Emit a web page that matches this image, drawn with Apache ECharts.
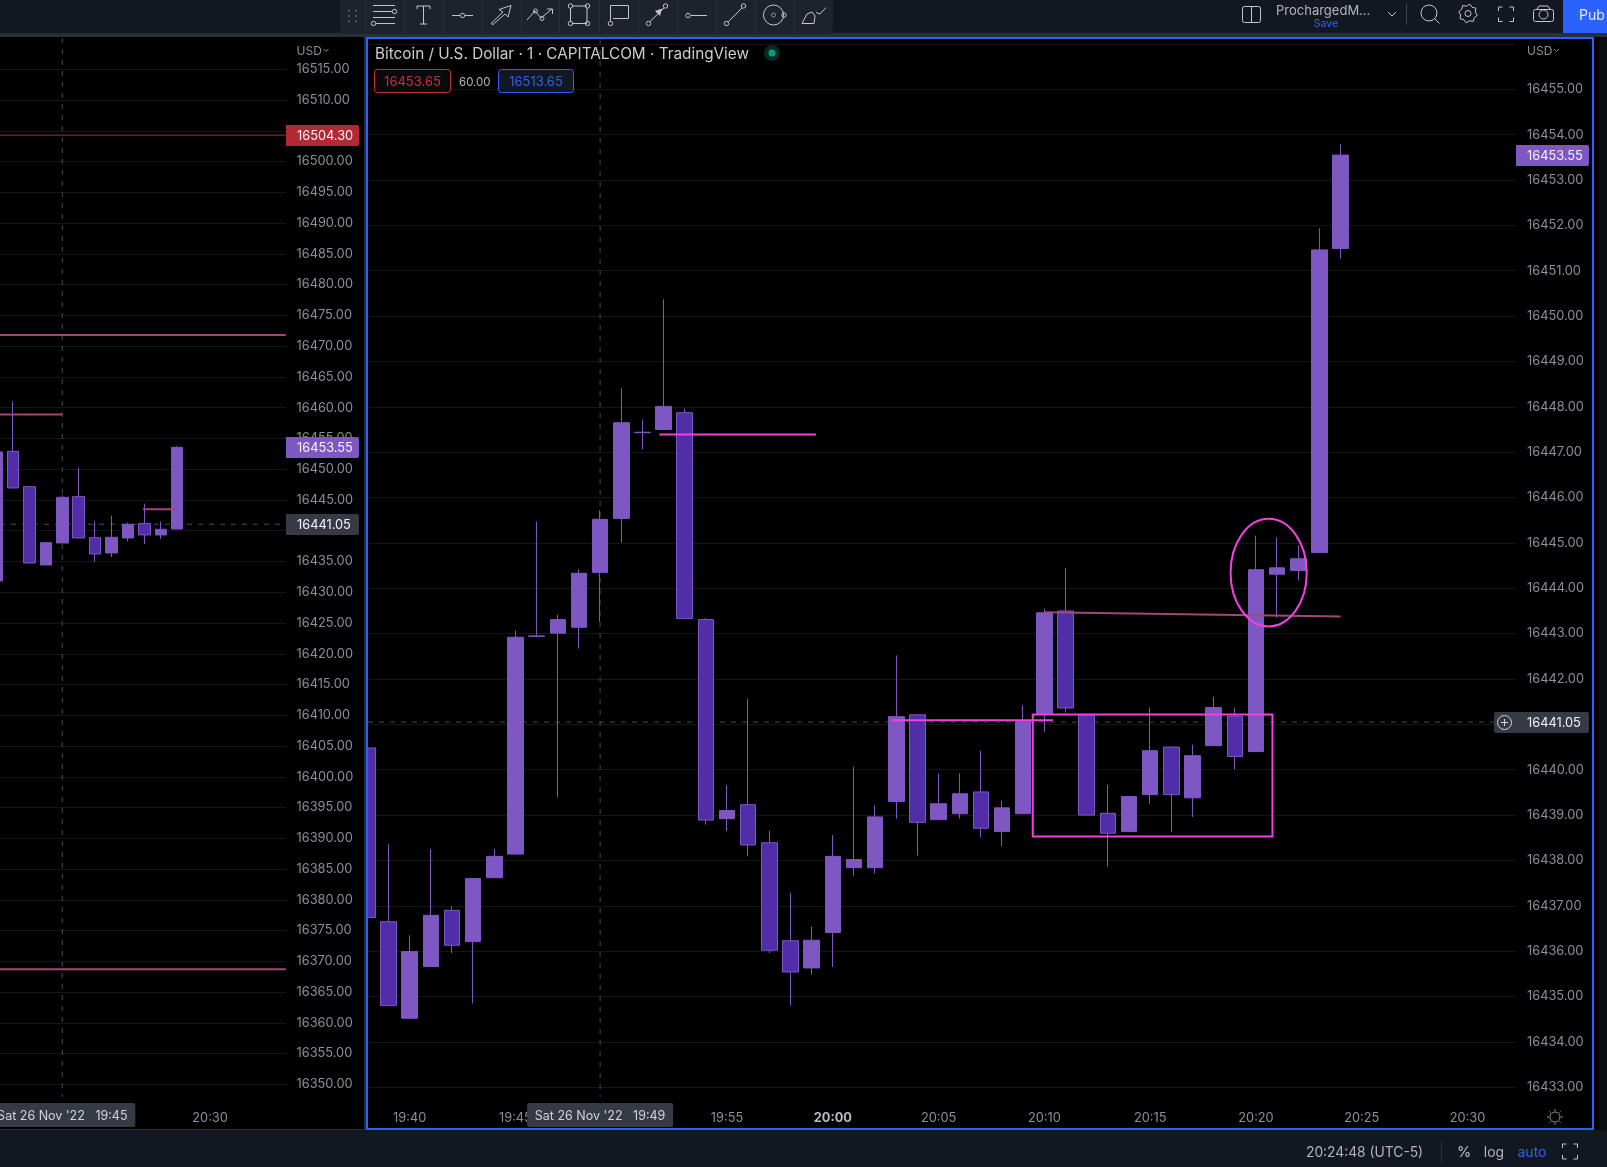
<!DOCTYPE html>
<html>
<head>
<meta charset="utf-8">
<title>BTCUSD split chart</title>
<script src="https://cdn.jsdelivr.net/npm/echarts@6/dist/echarts.min.js"></script>
<style>
  html, body { margin: 0; padding: 0; background: #000; }
  #chart { width: 1607px; height: 1167px; }
</style>
</head>
<body>
<div id="chart"></div>
<script>
// right panel: 1 minute candles
const mainTimes = ['19:38','19:39','19:40','19:41','19:42','19:43','19:44','19:45','19:46','19:47','19:48','19:49','19:50','19:51','19:52','19:53','19:54','19:55','19:56','19:57','19:58','19:59','20:00','20:01','20:02','20:03','20:04','20:05','20:06','20:07','20:08','20:09','20:10','20:11','20:12','20:13','20:14','20:15','20:16','20:17','20:18','20:19','20:20','20:21','20:22','20:23','20:24']
const mainOpen = [16440.48,16436.65,16434.52,16435.66,16436.90,16436.21,16437.62,16438.14,16442.94,16443.01,16443.14,16444.35,16445.54,16447.43,16447.50,16447.87,16443.31,16438.92,16439.23,16438.39,16436.23,16435.63,16436.41,16437.84,16437.84,16439.30,16441.21,16438.90,16439.03,16439.51,16438.64,16439.03,16441.24,16443.50,16441.21,16439.04,16438.64,16439.45,16440.50,16439.38,16440.53,16441.18,16440.40,16444.31,16444.39,16444.79,16451.49]
const mainClose = [16436.74,16434.80,16435.99,16436.79,16436.13,16437.60,16438.09,16442.92,16442.95,16443.31,16444.33,16445.52,16447.65,16447.44,16448.01,16443.33,16438.89,16439.10,16438.34,16436.02,16435.54,16436.24,16438.09,16438.02,16438.96,16441.17,16438.84,16439.25,16439.47,16438.71,16439.16,16441.06,16443.46,16441.36,16439.00,16438.60,16439.41,16440.42,16439.45,16440.31,16441.37,16440.29,16444.41,16444.45,16444.65,16451.46,16453.55]
const mainLow = [16436.74,16434.80,16434.52,16435.66,16435.96,16434.85,16437.62,16438.14,16442.94,16439.39,16442.67,16443.26,16445.01,16447.06,16447.50,16443.33,16438.79,16438.65,16438.09,16435.96,16434.80,16435.49,16435.65,16437.66,16437.71,16438.92,16438.11,16438.90,16438.92,16438.51,16438.31,16439.03,16440.83,16441.26,16439.00,16437.86,16438.64,16439.25,16438.62,16438.96,16440.53,16440.01,16440.40,16443.35,16444.17,16444.79,16451.27]
const mainHigh = [16440.48,16438.36,16436.35,16438.25,16436.99,16437.60,16438.25,16443.07,16445.47,16443.42,16444.42,16445.72,16448.41,16447.72,16450.37,16447.96,16443.35,16439.66,16441.57,16438.65,16437.29,16436.55,16438.56,16440.07,16439.21,16442.52,16441.21,16439.92,16439.92,16440.42,16439.32,16441.42,16443.55,16444.45,16441.21,16439.67,16439.41,16441.37,16440.50,16440.55,16441.61,16441.37,16445.16,16445.12,16444.94,16451.94,16453.79]
const mainPriceLabels = [16433,16434,16435,16436,16437,16438,16439,16440,16441,16442,16443,16444,16445,16446,16447,16448,16449,16450,16451,16452,16453,16454,16455]
const mainGridLevels = [16433,16434,16435,16436,16437,16438,16439,16440,16441,16442,16443,16444,16445,16446,16447,16448,16449,16450,16451,16452,16453,16454,16455,16456]
const mainTimeLabels = ['19:40','19:45','19:50','19:55','20:00','20:05','20:10','20:15','20:20','20:25','20:30']

// left panel: 5 minute candles
const sideTimes = ['19:25','19:30','19:35','19:40','19:45','19:50','19:55','20:00','20:05','20:10','20:15','20:20']
const sideOpen = [16431.83,16452.90,16447.16,16434.43,16438.00,16445.54,16438.87,16436.38,16438.82,16441.15,16439.31,16440.28]
const sideClose = [16452.80,16446.95,16434.76,16438.06,16445.43,16438.82,16436.22,16438.93,16441.04,16439.31,16440.23,16453.55]
const sideLow = [16431.83,16446.95,16434.76,16434.43,16438.00,16438.82,16434.92,16435.73,16438.28,16437.84,16438.66,16440.28]
const sideHigh = [16452.80,16461.03,16447.16,16438.20,16445.75,16450.25,16441.47,16442.45,16441.31,16444.40,16441.47,16453.72]
const sidePriceLabels = [16350,16355,16360,16365,16370,16375,16380,16385,16390,16395,16400,16405,16410,16415,16420,16425,16430,16435,16440,16445,16450,16455,16460,16465,16470,16475,16480,16485,16490,16495,16500,16505,16510,16515]
const sideTimeLabels = ['20:30']

// drawings on the charts, as [time, price, time, price]
const mainBrightLines = [['19:51.8',16447.39,'19:59.2',16447.39],['20:02.8',16441.09,'20:10.4',16441.09]]
const mainMutedLines = [['20:10',16443.47,'20:24',16443.38]]
const mainBoxes = [['20:09.45',16441.22,'20:20.78',16438.53]]
const mainEllipses = [['20:18.8',16445.53,'20:22.4',16443.16]]
const sideRedLines = [['19:06',16504.30,'20:53.1',16504.30]]
const sideMutedLines = [['19:06',16471.8,'20:53.1',16471.8],['19:06',16368.7,'20:53.1',16368.7],['19:06',16458.9,'19:45',16458.9],['20:09.6',16443.5,'20:20',16443.5]]
const lastPrice = 16453.55
const countdownPrice = 16441.05
const sideStopPrice = 16504.30

const FONT = 'Inter, "Noto Sans", sans-serif'
const AXIS_SIZE = 12.8
const UP = '#7e57c2'
const DOWN = '#512da8'
const BLUE = '#2962ff'
const PANEL = '#131722'
const STRIP = '#2a2e39'
const ICON = '#c3c6ce'
const TEXT_DIM = '#8c8f96'
const TAG = '#363a45'
const PINK = '#f53fe4'
const MUTED_PINK = '#a04878'

const toMinute = (t) => {
  const [h, m] = t.split(':')
  return Number(h) * 60 + Number(m)
}
const toClock = (v) => {
  const m = Math.round(v)
  return Math.floor(m / 60) + ':' + String(m % 60).padStart(2, '0')
}

const candleRows = (times, open, close, low, high) =>
  times.map((t, i) => [toMinute(t), open[i], close[i], low[i], high[i]])

const lineRows = (rows) => rows.map((r) => [toMinute(r[0]), r[1], toMinute(r[2]), r[3]])

function candleSeries(index, rows, barWidth) {
  return {
    type: 'candlestick',
    xAxisIndex: index,
    yAxisIndex: index,
    data: rows,
    encode: { x: 0, y: [1, 2, 3, 4] },
    barWidth: barWidth,
    clip: true,
    silent: true,
    itemStyle: {
      color: UP,
      color0: DOWN,
      borderColor: UP,
      borderColor0: UP,
      borderWidth: 1
    }
  }
}

// straight segments, boxes and ellipses given in chart values
function drawingSeries(index, rows, shape, style, z) {
  return {
    type: 'custom',
    xAxisIndex: index,
    yAxisIndex: index,
    data: rows,
    encode: { x: [0, 2], y: [1, 3] },
    silent: true,
    z: z,
    renderItem: (params, api) => {
      const a = api.coord([api.value(0), api.value(1)])
      const b = api.coord([api.value(2), api.value(3)])
      if (shape === 'line') {
        return { type: 'line', shape: { x1: a[0], y1: a[1], x2: b[0], y2: b[1] }, style: style }
      }
      if (shape === 'rect') {
        return { type: 'rect', shape: { x: a[0], y: a[1], width: b[0] - a[0], height: b[1] - a[1] }, style: style }
      }
      return {
        type: 'ellipse',
        shape: { cx: (a[0] + b[0]) / 2, cy: (a[1] + b[1]) / 2, rx: (b[0] - a[0]) / 2, ry: (b[1] - a[1]) / 2 },
        style: style
      }
    }
  }
}

// coloured price label sitting on the price scale
function priceTag(index, price, fill, color) {
  return {
    type: 'custom',
    xAxisIndex: index,
    yAxisIndex: index,
    data: [[price]],
    encode: { y: 0 },
    silent: true,
    z: 6,
    renderItem: (params, api) => {
      const y = api.coord([0, api.value(0)])[1]
      const x = params.coordSys.x + params.coordSys.width
      return {
        type: 'group',
        children: [
          { type: 'rect', shape: { x: x, y: Math.round(y) - 10, width: 73, height: 21, r: [0, 2, 2, 0] }, style: { fill: fill } },
          { type: 'text', style: { x: x + 11, y: Math.round(y) + 1, text: api.value(0).toFixed(2), fill: color, font: AXIS_SIZE + 'px ' + FONT, verticalAlign: 'middle' } }
        ]
      }
    }
  }
}

// date label at the foot of the crosshair
function timeTag(index, minute, text) {
  return {
    type: 'custom',
    xAxisIndex: index,
    yAxisIndex: index,
    data: [[minute]],
    encode: { x: 0 },
    silent: true,
    z: 6,
    renderItem: (params, api) => {
      const x = api.coord([api.value(0), 0])[0]
      const y = params.coordSys.y + params.coordSys.height
      return {
        type: 'group',
        children: [
          { type: 'rect', shape: { x: x - 73, y: y + 6, width: 146, height: 24, r: 2 }, style: { fill: TAG } },
          { type: 'text', style: { x: x, y: y + 19, text: text, fill: '#d1d4dc', font: '12.5px ' + FONT, align: 'center', verticalAlign: 'middle' } }
        ]
      }
    }
  }
}

function priceAxis(index, min, max, labels, levels, margin) {
  return {
    type: 'value',
    gridIndex: index,
    position: 'right',
    min: min,
    max: max,
    scale: true,
    axisLine: { show: false },
    axisTick: { show: false, customValues: levels },
    splitLine: { show: true, lineStyle: { color: '#161616', width: 1 } },
    axisLabel: {
      customValues: labels,
      margin: margin,
      padding: [1, 0, 0, 0],
      color: TEXT_DIM,
      fontFamily: FONT,
      fontSize: AXIS_SIZE,
      formatter: (v) => v.toFixed(2)
    }
  }
}

function timeAxis(index, min, max, labels) {
  return {
    type: 'value',
    gridIndex: index,
    min: min,
    max: max,
    axisLine: { show: false },
    axisTick: { show: false },
    splitLine: { show: false },
    axisLabel: {
      customValues: labels.map(toMinute),
      margin: 15,
      color: TEXT_DIM,
      fontFamily: FONT,
      fontSize: AXIS_SIZE,
      formatter: (v) => (toClock(v) === '20:00' ? '{strong|20:00}' : toClock(v)),
      rich: { strong: { color: '#b8bbc2', fontFamily: FONT, fontSize: AXIS_SIZE, fontWeight: 'bold' } }
    }
  }
}

// ---- window chrome around the charts ----
const chrome = []
const rect = (x, y, w, h, fill, r) => chrome.push({ type: 'rect', z: 20, silent: true, shape: { x: x, y: y, width: w, height: h, r: r || 0 }, style: { fill: fill } })
const line = (x1, y1, x2, y2, color) => chrome.push({ type: 'line', z: 21, silent: true, shape: { x1: x1, y1: y1, x2: x2, y2: y2 }, style: { stroke: color || ICON, lineWidth: 1 } })
const ring = (x, y, r, color) => chrome.push({ type: 'circle', z: 21, silent: true, shape: { cx: x, cy: y, r: r }, style: { fill: 'none', stroke: color || ICON, lineWidth: 1 } })
const poly = (points, color, closed) => chrome.push({ type: closed ? 'polygon' : 'polyline', z: 21, silent: true, shape: { points: points }, style: { fill: 'none', stroke: color || ICON, lineWidth: 1 } })
const label = (x, y, text, color, size, align) => chrome.push({ type: 'text', z: 22, silent: true, style: { x: x, y: y, text: text, fill: color, font: (size || 12) + 'px ' + FONT, align: align || 'left', verticalAlign: 'middle' } })

// bars and panel frame
rect(0, 0, 1607, 33, PANEL)
rect(0, 33, 1607, 4, STRIP)
rect(0, 1130, 1607, 37, PANEL)
rect(355, 735, 9, 250, '#000')
rect(364, 37, 2, 1093, STRIP)
rect(0, 1129, 366, 1, STRIP)
rect(1599, 37, 8, 1093, '#0b0c10')
rect(366, 37, 2, 1093, BLUE)
rect(366, 37, 1228, 2, BLUE)
rect(1592, 37, 2, 1093, BLUE)
rect(366, 1128, 1228, 2, BLUE)

// floating drawing toolbar
rect(340, -6, 493, 40, '#1e222d', 5)
for (const x of [365, 404, 443, 482, 521, 559, 599, 638, 677, 716, 755, 794]) line(x + 0.5, 0, x + 0.5, 33, '#2a2e39')
for (const x of [348, 355]) for (const y of [10, 15, 20]) rect(x, y, 2, 2, '#50535e')
line(373, 5.5, 395, 5.5); line(373, 11.5, 392, 11.5); ring(394.5, 11.5, 2.2)
line(373, 17.5, 395, 17.5); line(376, 23.5, 395, 23.5); ring(373.5, 23.5, 2.2)
poly([[417, 9], [417, 6], [430, 6], [430, 9]]); line(423.5, 6, 423.5, 24); line(420, 24, 427, 24)
line(452, 15.5, 460, 15.5); line(465, 15.5, 473, 15.5); ring(462.5, 15.5, 2.2)
poly([[511, 5.5], [499, 9.5], [503, 12], [491, 23.5], [493, 24.5], [505, 14], [508, 17]], ICON, true)
poly([[527, 20], [535, 11], [541, 18], [552, 9]]); poly([[547, 9], [552.5, 9], [552.5, 14]]); ring(535.5, 11, 2); ring(542, 18.5, 2)
line(572, 6, 587, 6); line(587, 8, 587, 23); line(572, 23.5, 587, 23.5); line(570.5, 8, 570.5, 21.5)
ring(570.5, 6, 2.2); ring(587.5, 6, 2.2); ring(570.5, 23.5, 2.2); ring(587.5, 23.5, 2.2)
poly([[610.5, 21], [610.5, 5.5], [628.5, 5.5], [628.5, 18.5], [613, 18.5]]); ring(610.5, 23.5, 2.2)
line(650, 21.5, 664, 8); ring(648.5, 23.5, 2.2); ring(665.5, 6, 2.2)
chrome.push({ type: 'polygon', z: 21, silent: true, shape: { points: [[662, 8.5], [655, 11], [660, 16]] }, style: { fill: ICON } })
ring(688, 15.5, 2.2); line(691, 15.5, 707, 15.5)
line(728.5, 21.5, 742, 8); ring(726.5, 23.5, 2.2); ring(743.5, 6, 2.2)
ring(773.5, 15, 10); ring(773.5, 15, 2, '#8c8f96'); ring(784, 15, 2.2)
poly([[802, 23.5], [807, 14], [812, 12], [815, 16], [814, 23.5], [802, 23.5]]); poly([[816, 12.5], [820, 14], [826, 7.5]])

// top right controls
chrome.push({ type: 'rect', z: 21, silent: true, shape: { x: 1242.5, y: 6.5, width: 18, height: 16, r: 2 }, style: { fill: 'none', stroke: ICON, lineWidth: 1 } })
line(1251.5, 7, 1251.5, 22)
label(1276, 11, 'ProchargedM...', '#b2b5be', 13)
label(1326, 23.5, 'Save', '#2962ff', 10.5, 'center')
poly([[1388, 12], [1392, 16], [1396, 12]])
line(1406.5, 4, 1406.5, 25, '#434651')
ring(1429, 13, 8); line(1435, 19, 1439.5, 23.5)
const gear = []
for (let i = 0; i < 16; i++) {
  const r = i % 2 === 0 ? 9.5 : 7.5
  const a = (i + 0.5) * Math.PI / 8
  gear.push([1468 + r * Math.cos(a), 13.5 + r * Math.sin(a)])
}
poly(gear, ICON, true); ring(1468, 13.5, 3)
for (const [x, y, dx, dy] of [[1498.5, 7, 1, 1], [1513.5, 7, -1, 1], [1498.5, 21.5, 1, -1], [1513.5, 21.5, -1, -1]]) {
  poly([[x + dx * 4, y], [x, y], [x, y + dy * 4]])
}
chrome.push({ type: 'rect', z: 21, silent: true, shape: { x: 1533.5, y: 9.5, width: 20, height: 12, r: 2 }, style: { fill: 'none', stroke: ICON, lineWidth: 1 } })
poly([[1537, 9], [1539, 6], [1548, 6], [1550, 9]]); ring(1543.5, 14.5, 4.5)
rect(1563, 0, 44, 33, BLUE)
label(1579, 15.5, 'Pub', '#e6e9f5', 14)

// scale headers
label(296.5, 51, 'USD', TEXT_DIM, 12); poly([[323.5, 49], [326, 51.5], [328.5, 49]], TEXT_DIM)
label(1527, 51, 'USD', TEXT_DIM, 12); poly([[1554, 49], [1556.5, 51.5], [1559, 49]], TEXT_DIM)

// legend of the right panel
label(375, 54, 'Bitcoin / U.S. Dollar · 1 · CAPITALCOM · TradingView', '#c9cbd2', 15.3)
chrome.push({ type: 'circle', z: 21, silent: true, shape: { cx: 772, cy: 53, r: 8 }, style: { fill: '#062c24' } })
chrome.push({ type: 'circle', z: 21, silent: true, shape: { cx: 772, cy: 53, r: 3.5 }, style: { fill: '#089981' } })
chrome.push({ type: 'rect', z: 21, silent: true, shape: { x: 374.5, y: 69.5, width: 76, height: 23, r: 3 }, style: { fill: '#0a0a0c', stroke: '#c5303c', lineWidth: 1 } })
label(412.5, 82, '16453.65', '#c5303c', 13, 'center')
label(459, 82.5, '60.00', '#b2b5be', 11.5)
chrome.push({ type: 'rect', z: 21, silent: true, shape: { x: 498.5, y: 69.5, width: 75, height: 23, r: 3 }, style: { fill: PANEL, stroke: BLUE, lineWidth: 1 } })
label(536, 82, '16513.65', '#2d62e0', 13, 'center')

// plus button next to the crosshair price and scale settings
rect(1494, 712, 22, 21, TAG, [2, 0, 0, 2])
ring(1504.5, 722.5, 7, '#d1d4dc'); line(1501, 722.5, 1508, 722.5, '#d1d4dc'); line(1504.5, 719, 1504.5, 726, '#d1d4dc')
ring(1555, 1117, 5, TEXT_DIM)
for (let i = 0; i < 8; i++) {
  const a = i * Math.PI / 4
  line(1555 + 6 * Math.cos(a), 1117 + 6 * Math.sin(a), 1555 + 8 * Math.cos(a), 1117 + 8 * Math.sin(a), TEXT_DIM)
}

// status bar
label(1306, 1153, '20:24:48 (UTC-5)', '#b2b5be', 13.8)
line(1441.5, 1141, 1441.5, 1163, '#2a2e39')
label(1464, 1153, '%', '#c3c6ce', 14.5, 'center')
label(1494, 1153, 'log', '#b2b5be', 14, 'center')
label(1532, 1153, 'auto', '#2962ff', 14, 'center')
for (const [x, y, dx, dy] of [[1562.5, 1144, 1, 1], [1577.5, 1144, -1, 1], [1562.5, 1159, 1, -1], [1577.5, 1159, -1, -1]]) {
  poly([[x + dx * 4, y], [x, y], [x, y + dy * 4]])
}

const crossStyle = { stroke: '#4a4b50', lineWidth: 1, lineDash: [5, 6] }
const mainCross = [
  [toMinute('19:49'), 16456.109, toMinute('19:49'), 16432.785],
  [1178.03, countdownPrice, 1232.29, countdownPrice]
]
const sideCross = [
  [toMinute('19:45'), 16520.09, toMinute('19:45'), 16347.95],
  [1166.02, countdownPrice, 1253.14, countdownPrice]
]

const option = {
  backgroundColor: '#000',
  animation: false,
  textStyle: { fontFamily: FONT },
  grid: [
    { left: 0, top: 38, width: 286, height: 1059, show: false },
    { left: 368, top: 39, width: 1148, height: 1058, show: false }
  ],
  xAxis: [
    timeAxis(0, 1166.02, 1253.14, sideTimeLabels),
    timeAxis(1, 1178.03, 1232.29, mainTimeLabels)
  ],
  yAxis: [
    priceAxis(0, 16347.95, 16520.09, sidePriceLabels, sidePriceLabels, 10.5),
    priceAxis(1, 16432.785, 16456.109, mainPriceLabels, mainGridLevels, 11)
  ],
  series: [
    drawingSeries(0, sideCross, 'line', crossStyle, 1),
    drawingSeries(1, mainCross, 'line', crossStyle, 1),
    candleSeries(0, candleRows(sideTimes, sideOpen, sideClose, sideLow, sideHigh), 12),
    candleSeries(1, candleRows(mainTimes, mainOpen, mainClose, mainLow, mainHigh), 16),
    drawingSeries(0, lineRows(sideRedLines), 'line', { stroke: '#b22833', lineWidth: 1 }, 4),
    drawingSeries(0, lineRows(sideMutedLines), 'line', { stroke: MUTED_PINK, lineWidth: 2 }, 4),
    drawingSeries(1, lineRows(mainMutedLines), 'line', { stroke: MUTED_PINK, lineWidth: 2 }, 4),
    drawingSeries(1, lineRows(mainBrightLines), 'line', { stroke: PINK, lineWidth: 2 }, 5),
    drawingSeries(1, lineRows(mainBoxes), 'rect', { fill: 'none', stroke: PINK, lineWidth: 2 }, 5),
    drawingSeries(1, lineRows(mainEllipses), 'ellipse', { fill: 'none', stroke: PINK, lineWidth: 2 }, 5),
    priceTag(0, sideStopPrice, '#b22833', '#f0f3fa'),
    priceTag(0, lastPrice, UP, '#f0f3fa'),
    priceTag(0, countdownPrice, TAG, '#f0f3fa'),
    priceTag(1, lastPrice, UP, '#f0f3fa'),
    priceTag(1, countdownPrice, TAG, '#f0f3fa'),
    timeTag(0, toMinute('19:45'), "Sat 26 Nov '22   19:45"),
    timeTag(1, toMinute('19:49'), "Sat 26 Nov '22   19:49")
  ],
  graphic: { elements: chrome }
}

const myChart = echarts.init(document.getElementById('chart'), null, { width: 1607, height: 1167 })
myChart.setOption(option)
</script>
</body>
</html>
